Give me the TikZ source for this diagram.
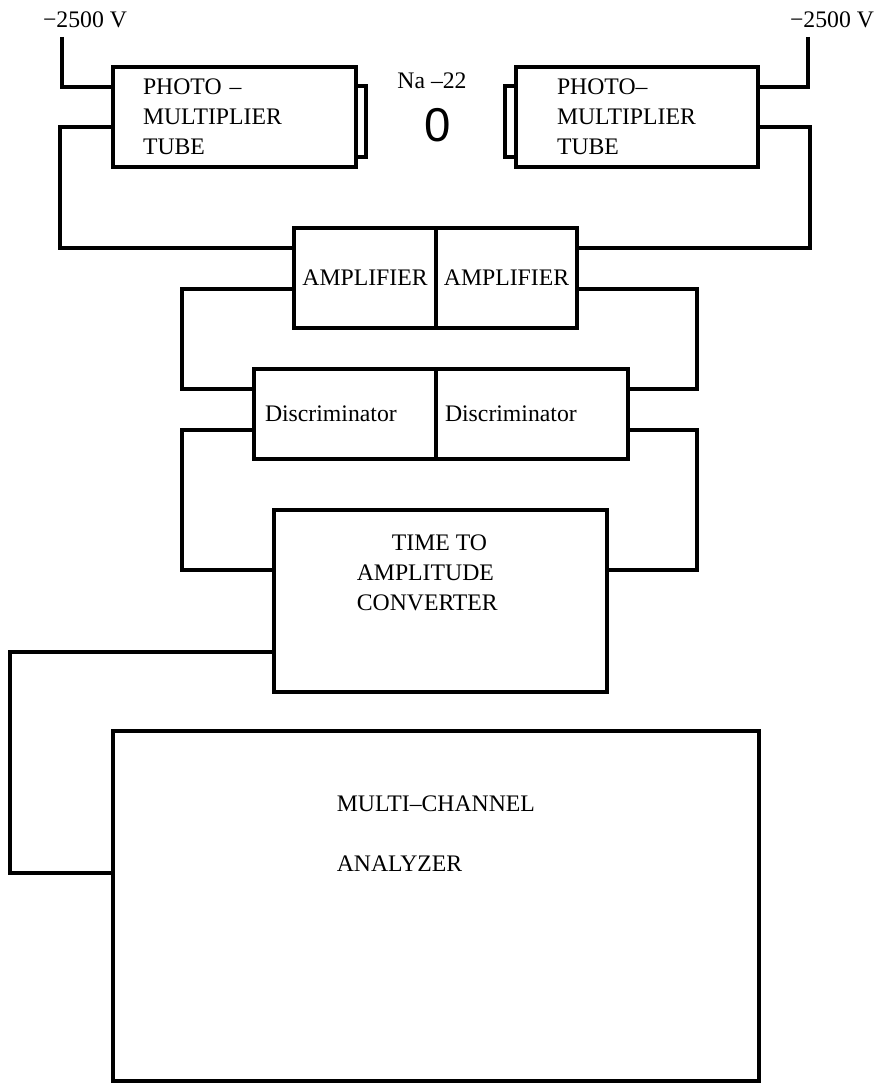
\documentclass[tikz,border=0pt]{standalone}
\usepackage{fontspec}
\setmainfont{Liberation Serif}
\newfontfamily\srcfont{Liberation Sans}
\usepackage{tikz}
\usetikzlibrary{positioning}

\begin{document}
\begin{tikzpicture}[x=0.02cm, y=-0.02cm, line width=2.1pt,
    font=\fontsize{13.5}{17}\selectfont,
    box/.style={draw, rectangle, inner sep=0pt},
    txt/.style={inner sep=0pt}]
      \useasboundingbox (0,0) rectangle (876,1084);

      % Photomultipliers
      \node[box, minimum width=4.86cm, minimum height=2cm, inner xsep=0.6cm,
        text width=3.66cm, align=left] (pmtL) at (234.5,117)
  {PHOTO –\\MULTIPLIER\\TUBE};
      \node[box, minimum width=0.2cm, minimum height=1.42cm] (winL) at
  (361,121.5) {};
      \node[box, minimum width=4.84cm, minimum height=2cm, inner xsep=0.82cm,
        text width=3.2cm, align=left] (pmtR) at (637,117)
  {PHOTO–\\MULTIPLIER\\TUBE};
      \node[box, minimum width=0.22cm, minimum height=1.42cm] (winR) at
  (510.5,121.5) {};

      % Source and supply labels
      \node[txt] (na) at (432,81) {Na –22};
      \node[txt] (src) at (438,125) {\srcfont\fontsize{27}{27}\selectfont 0};
      \node[txt] (hvL) at (85,20) {−2500 V};
      \node[txt] (hvR) at (832,20) {−2500 V};
      \coordinate (hvLend) at (62,37);
      \coordinate (hvRend) at (808,37);

      % Amplifiers and discriminators
      \node[box, minimum width=2.84cm, minimum height=2cm] (ampL) at
  (365,278) {AMPLIFIER};
      \node[box, minimum width=2.82cm, minimum height=2cm] (ampR) at
  (506.5,278) {AMPLIFIER};
      \node[box, minimum height=1.8cm, inner xsep=0.22cm, text width=3.2cm,
        align=left] (discL) at (345,414) {Discriminator};
      \node[box, minimum height=1.8cm, inner xsep=0.18cm, text width=3.48cm,
        align=left] (discR) at (532,414) {Discriminator};

      % Converter and analyzer
      \node[box, minimum width=6.66cm, minimum height=3.64cm] (tac) at
  (440.5,601) {};
      \node[txt, anchor=west, align=left] (tacText) at (355,573)
  {\hspace*{20pt}TIME TO\\AMPLITUDE\\CONVERTER};
      \node[box, minimum width=12.92cm, minimum height=7cm] (mca) at
  (436,906) {};
      \node[txt, anchor=west, align=left] (mcaText) at (335,834)
  {MULTI–CHANNEL\\[17pt]ANALYZER};

      % Wires
      \draw (hvLend) |- ([yshift=0.6cm]pmtL.west);
      \draw (hvRend) |- ([yshift=0.6cm]pmtR.east);
      \draw ([yshift=-0.2cm]pmtL.west) -- ++(-51,0) |- ([yshift=0.6cm]ampL.west);
      \draw ([yshift=-0.2cm]pmtR.east) -- ++(50,0) |- ([yshift=0.6cm]ampR.east);
      \draw ([yshift=-0.22cm]ampL.west) -- ++(-110,0) |- ([yshift=0.5cm]discL.west);
      \draw ([yshift=-0.22cm]ampR.east) -- ++(118,0) |- ([yshift=0.5cm]discR.east);
      \draw ([yshift=-0.32cm]discL.west) -- ++(-70,0) |- ([yshift=0.62cm]tac.west);
      \draw ([yshift=-0.32cm]discR.east) -- ++(67,0) |- ([yshift=0.62cm]tac.east);
      \draw ([yshift=-1.02cm]tac.west) -- ++(-262,0) |- ([yshift=0.66cm]mca.west);
  \end{tikzpicture}
\end{document}
